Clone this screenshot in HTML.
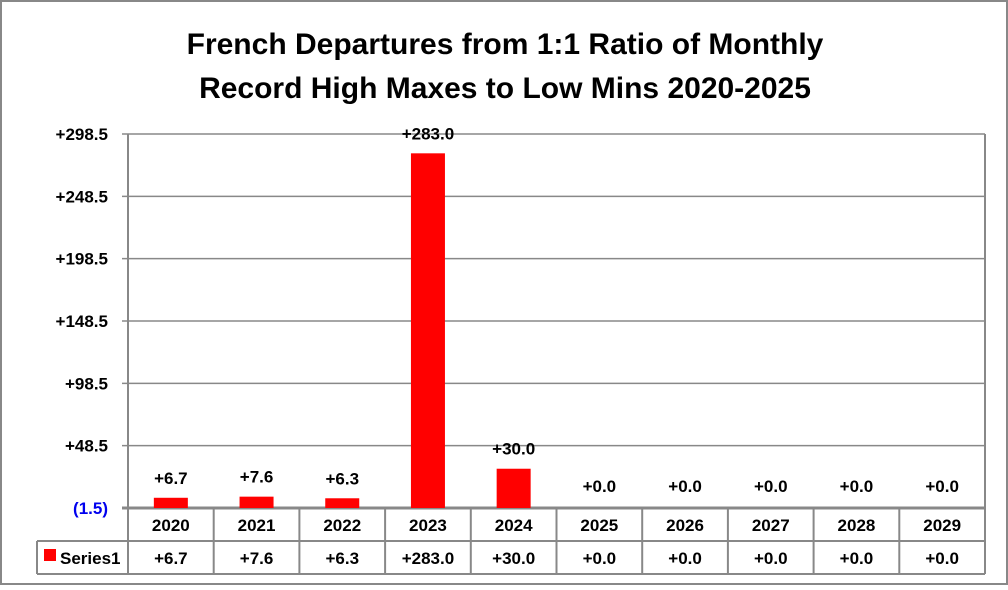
<!DOCTYPE html>
<html><head><meta charset="utf-8"><style>
body{margin:0;background:#fff}
svg text{font-family:"Liberation Sans",Arial,sans-serif;font-weight:bold}
</style></head><body>
<svg width="1008" height="585" viewBox="0 0 1008 585">
<rect x="1" y="1" width="1006" height="583" fill="#fff" stroke="#888" stroke-width="2"/>
<text x="505" y="54" text-anchor="middle" font-size="30">French Departures from 1:1 Ratio of Monthly</text>
<text x="505" y="98" text-anchor="middle" font-size="30">Record High Maxes to Low Mins 2020-2025</text>
<g id="plot"></g>
</svg>
<script>
const categories=["2020","2021","2022","2023","2024","2025","2026","2027","2028","2029"];
const values=[6.7,7.6,6.3,283.0,30.0,0,0,0,0,0];
const ticks=[-1.5,48.5,98.5,148.5,198.5,248.5,298.5];
const seriesName="Series1";
const NS="http://www.w3.org/2000/svg";
const g=document.getElementById('plot');
const L=128,R=985,T=134,B=508,vmin=-1.5,vmax=298.5;
const cw=(R-L)/categories.length;
function y(v){return B-(v-vmin)/(vmax-vmin)*(B-T);}
function x(i){return L+cw*i+cw/2;}
function mk(tag,attrs){const e=document.createElementNS(NS,tag);for(const k in attrs)e.setAttribute(k,attrs[k]);g.appendChild(e);return e;}
function fmt(v){return (v<0?"("+Math.abs(v).toFixed(1)+")":"+"+v.toFixed(1));}
ticks.forEach(t=>{
  const ln=mk('line',{x1:L-6,x2:R,y1:y(t),y2:y(t),stroke:'#888','stroke-width':t===vmin?3:1.5});
  
  
  const tx=mk('text',{x:108,y:y(t)+6,'text-anchor':'end','font-size':17,fill:t<0?'#0000ee':'#000'});
  tx.textContent=fmt(t);
  
  
});
const ax=mk('line',{x1:L,x2:L,y1:T,y2:574,stroke:'#888','stroke-width':2});


// table
[[L,508,R,508],[L,541,R,541],[37,541,37,574],[37,574,R,574],[37,541,L,541],[R,T,R,574]].forEach(a=>{
  const l=mk('line',{x1:a[0],y1:a[1],x2:a[2],y2:a[3],stroke:'#888','stroke-width':2});
  
  
});
for(let i=1;i<categories.length;i++){
  const l=mk('line',{x1:L+cw*i,x2:L+cw*i,y1:508,y2:574,stroke:'#888','stroke-width':2});
  
  
}
const lk=mk('rect',{x:44,y:549,width:12,height:12,fill:'#ff0000'});


const lt=mk('text',{x:60,y:564,'font-size':17});
lt.textContent=seriesName;


categories.forEach((c,i)=>{
  const v=values[i];
  const top=y(Math.max(v,0)),base=y(0);
  if(v>0){
    const b=mk('rect',{x:x(i)-17,y:top,width:34,height:Math.max(base-top,0)+ (y(0)<B?B-y(0):0),fill:'#ff0000'});
    
    
  }
  const dl=mk('text',{x:x(i),y:top-14,'text-anchor':'middle','font-size':17});
  dl.textContent=fmt(v);
  
  
  const ct=mk('text',{x:x(i),y:531,'text-anchor':'middle','font-size':17});
  ct.textContent=c;
  
  
  const tv=mk('text',{x:x(i),y:564,'text-anchor':'middle','font-size':17});
  tv.textContent=fmt(v);
  
  
});
</script>
</body></html>
